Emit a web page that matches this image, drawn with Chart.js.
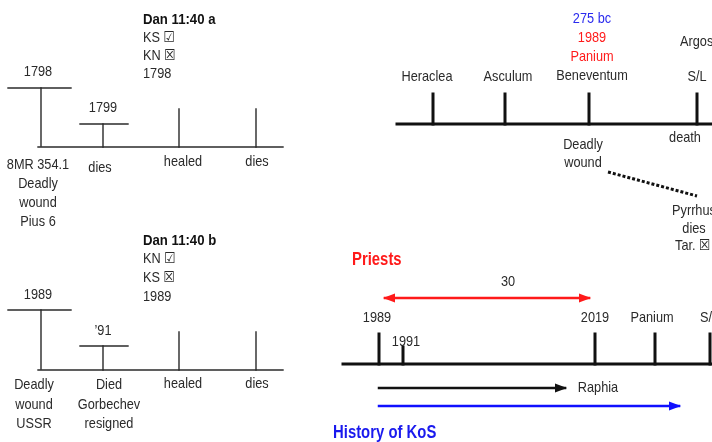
<!DOCTYPE html>
<html><head><meta charset="utf-8">
<style>html,body{margin:0;padding:0;background:#fff;overflow:hidden}canvas{display:block}</style>
<script src="https://cdn.jsdelivr.net/npm/chart.js@4"></script>
</head>
<body><canvas id="c" width="712" height="442"></canvas>
<script>
// Diagram data in diagram units (x: 0..712, y: 0..442 downward)
const thinSegments = [
  [[8,88],[71,88]], [[41,88],[41,146]], [[38,147],[283,147]],
  [[80,124],[128,124]], [[103,124],[103,147]],
  [[179,109],[179,147]], [[256,109],[256,147]],
  [[8,310],[71,310]], [[41,310],[41,369]], [[38,370],[283,370]],
  [[80,346],[128,346]], [[103,346],[103,370]],
  [[179,332],[179,370]], [[256,332],[256,370]]
];
const thickSegments = [
  [[397,124],[712,124]], [[433,94],[433,124]], [[505,94],[505,124]],
  [[589,94],[589,124]], [[697,94],[697,124]],
  [[343,364],[712,364]], [[379,334],[379,364]], [[403,347],[403,364]],
  [[595,334],[595,364]], [[655,334],[655,364]], [[710,334],[710,364]]
];
const dottedSegments = [ [[608,172],[697,196]] ];
const arrowSegments = [
  {pts:[[385,298],[589,298]], both:true, color:'#ff1a1a'},
  {pts:[[379,388],[565,388]], both:false, color:'#111111'},
  {pts:[[379,406],[679,406]], both:false, color:'#1010ff'}
];
// labels: [x, y, text, style, align]
const labelsLeftA = [
  [143,20,'Dan 11:40 a','bold','left'],
  [143,38,'KS \u2611','reg','left'],
  [143,56,'KN \u2612','reg','left'],
  [143,74,'1798','reg','left'],
  [38,72,'1798','reg','center'],
  [103,108,'1799','reg','center'],
  [38,165,'8MR 354.1','reg','center'],
  [38,184,'Deadly','reg','center'],
  [38,203,'wound','reg','center'],
  [38,222,'Pius 6','reg','center'],
  [100,168,'dies','reg','center'],
  [183,162,'healed','reg','center'],
  [257,162,'dies','reg','center']
];
const labelsLeftB = [
  [143,241,'Dan 11:40 b','bold','left'],
  [143,259,'KN \u2611','reg','left'],
  [143,278,'KS \u2612','reg','left'],
  [143,297,'1989','reg','left'],
  [38,295,'1989','reg','center'],
  [103,331,'\u201991','reg','center'],
  [34,385,'Deadly','reg','center'],
  [34,405,'wound','reg','center'],
  [34,424,'USSR','reg','center'],
  [109,385,'Died','reg','center'],
  [109,405,'Gorbechev','reg','center'],
  [109,424,'resigned','reg','center'],
  [183,384,'healed','reg','center'],
  [257,384,'dies','reg','center']
];
const labelsRightTop = [
  [592,19,'275 bc','blue','center'],
  [592,38,'1989','red','center'],
  [592,57,'Panium','red','center'],
  [427,77,'Heraclea','reg','center'],
  [508,77,'Asculum','reg','center'],
  [592,76,'Beneventum','reg','center'],
  [697,77,'S/L','reg','center'],
  [680,42,'Argos','reg','left'],
  [685,138,'death','reg','center'],
  [583,145,'Deadly','reg','center'],
  [583,163,'wound','reg','center'],
  [672,211,'Pyrrhus','reg','left'],
  [694,229,'dies','reg','center'],
  [675,246,'Tar. \u2612','reg','left']
];
const labelsRightBottom = [
  [352,260,'Priests','redbold','left'],
  [508,282,'30','reg','center'],
  [377,318,'1989','reg','center'],
  [595,318,'2019','reg','center'],
  [652,318,'Panium','reg','center'],
  [700,318,'S/L','reg','left'],
  [406,342,'1991','reg','center'],
  [598,388,'Raphia','reg','center'],
  [333,433,'History of KoS','bluebold','left']
];

const FONT = '"Liberation Sans",Arial,"DejaVu Sans",sans-serif';
const CONDENSE = 0.85;
const styles = {
  reg:{font:'15px '+FONT,color:'#2a2a2a'},
  bold:{font:'bold 15.5px '+FONT,color:'#111'},
  red:{font:'15px '+FONT,color:'#ff1a1a'},
  blue:{font:'15px '+FONT,color:'#2a2aee'},
  redbold:{font:'bold 17.5px '+FONT,color:'#ff1a1a'},
  bluebold:{font:'bold 17.5px '+FONT,color:'#1a1aee'}
};

function segDataset(seg, color, width, dash){
  return {type:'line', data: seg.map(p=>({x:p[0],y:p[1]})), borderColor:color, borderWidth:width,
    borderDash:dash||[], pointRadius:0, showLine:true, fill:false, clip:false, tension:0, borderCapStyle: dash?'butt':'square'};
}
const datasets = [];
thinSegments.forEach(s=>datasets.push(segDataset(s,'#2a2a2a',1.4)));
thickSegments.forEach(s=>datasets.push(segDataset(s,'#111',3)));
dottedSegments.forEach(s=>datasets.push(segDataset(s,'#111',3,[3,2])));
arrowSegments.forEach(a=>datasets.push(segDataset(a.pts,a.color,2.5)));

const annotate = {
  id:'annotate',
  afterDatasetsDraw(chart){
    const ctx = chart.ctx, xs = chart.scales.x, ys = chart.scales.y;
    ctx.save();
    arrowSegments.forEach(a=>{
      const heads = a.both ? [[a.pts[1],a.pts[0]],[a.pts[0],a.pts[1]]] : [[a.pts[0],a.pts[1]]];
      heads.forEach(([p0,p1])=>{
        const x0=xs.getPixelForValue(p0[0]), y0=ys.getPixelForValue(p0[1]);
        const x1=xs.getPixelForValue(p1[0]), y1=ys.getPixelForValue(p1[1]);
        const ang=Math.atan2(y1-y0,x1-x0), L=10, W=4.5;
        ctx.fillStyle=a.color;
        ctx.beginPath();
        ctx.moveTo(x1+Math.cos(ang)*2,y1+Math.sin(ang)*2);
        ctx.lineTo(x1-Math.cos(ang)*L+Math.sin(ang)*W, y1-Math.sin(ang)*L-Math.cos(ang)*W);
        ctx.lineTo(x1-Math.cos(ang)*L-Math.sin(ang)*W, y1-Math.sin(ang)*L+Math.cos(ang)*W);
        ctx.closePath(); ctx.fill();
      });
    });
    ctx.textBaseline='middle';
    [labelsLeftA,labelsLeftB,labelsRightTop,labelsRightBottom].forEach(group=>{
      group.forEach(([x,y,t,st,al])=>{
        const s=styles[st];
        ctx.save();
        ctx.font=s.font; ctx.fillStyle=s.color; ctx.textAlign=al;
        ctx.translate(xs.getPixelForValue(x), ys.getPixelForValue(y));
        ctx.scale(CONDENSE,1);
        ctx.fillText(t, 0, 0);
        ctx.restore();
      });
    });
    ctx.restore();
  }
};

new Chart(document.getElementById('c'), {
  type:'scatter',
  data:{datasets},
  options:{
    responsive:false, animation:false, devicePixelRatio:1,
    layout:{padding:0},
    plugins:{legend:{display:false}, tooltip:{enabled:false}},
    scales:{
      x:{type:'linear', min:0, max:712, display:false},
      y:{type:'linear', min:0, max:442, reverse:true, display:false}
    }
  },
  plugins:[annotate]
});
</script>
</body></html>
